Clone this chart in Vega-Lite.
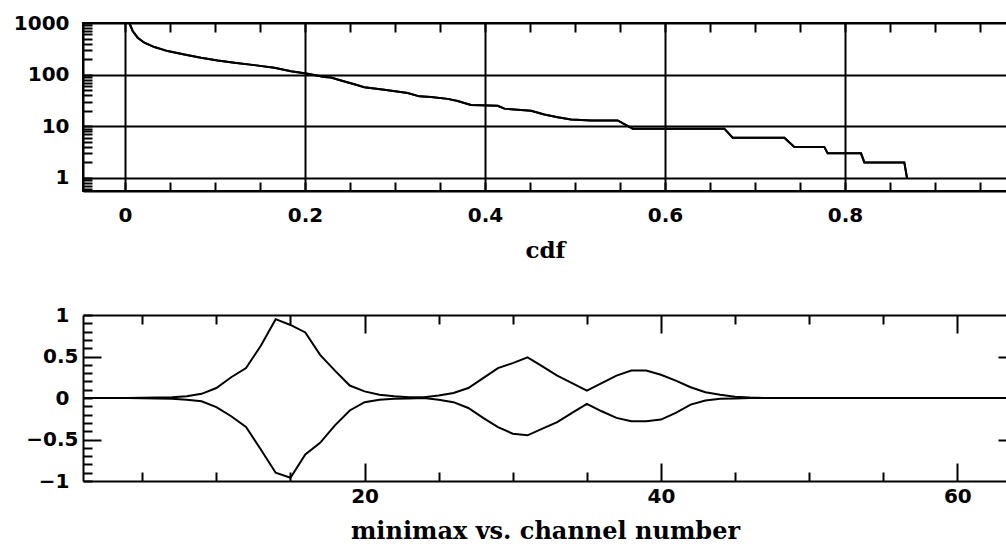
{
  "$schema": "https://vega.github.io/schema/vega-lite/v6.json",
  "background": "white",
  "padding": {"left": 12, "top": 12, "right": 0, "bottom": 0},
  "spacing": 42,
  "config": {
    "view": {"stroke": null},
    "axis": {
      "labelFont": "DejaVu Sans",
      "labelFontWeight": "bold",
      "labelFontSize": 20,
      "labelColor": "black",
      "labelOverlap": false,
      "labelFlush": false,
      "labelBound": false,
      "labelPadding": 23,
      "titleFont": "DejaVu Serif",
      "titleFontWeight": "bold",
      "titleFontSize": 23,
      "titleColor": "black",
      "tickColor": "black",
      "tickWidth": 2,
      "domainColor": "black",
      "domainWidth": 2,
      "gridColor": "black",
      "gridWidth": 2
    }
  },
  "vconcat": [
    {
      "width": 924,
      "height": 168,
      "view": {"stroke": "black", "strokeWidth": 2},
      "data": {
        "values": [
          {"cdf": 0.0048, "count": 1000},
          {"cdf": 0.0085, "count": 700},
          {"cdf": 0.0141, "count": 519},
          {"cdf": 0.0215, "count": 415},
          {"cdf": 0.0326, "count": 342},
          {"cdf": 0.0474, "count": 286},
          {"cdf": 0.0659, "count": 246},
          {"cdf": 0.0844, "count": 212},
          {"cdf": 0.103, "count": 188},
          {"cdf": 0.1215, "count": 170},
          {"cdf": 0.1437, "count": 153},
          {"cdf": 0.1659, "count": 136},
          {"cdf": 0.1844, "count": 117},
          {"cdf": 0.203, "count": 104},
          {"cdf": 0.2215, "count": 90},
          {"cdf": 0.2289, "count": 88},
          {"cdf": 0.24, "count": 77},
          {"cdf": 0.2548, "count": 65},
          {"cdf": 0.2659, "count": 57},
          {"cdf": 0.277, "count": 54},
          {"cdf": 0.2881, "count": 51},
          {"cdf": 0.3141, "count": 44},
          {"cdf": 0.327, "count": 38},
          {"cdf": 0.34, "count": 37},
          {"cdf": 0.3585, "count": 34},
          {"cdf": 0.3696, "count": 31},
          {"cdf": 0.3844, "count": 26},
          {"cdf": 0.4141, "count": 25},
          {"cdf": 0.4215, "count": 22},
          {"cdf": 0.4363, "count": 21},
          {"cdf": 0.4511, "count": 20},
          {"cdf": 0.4659, "count": 17},
          {"cdf": 0.4807, "count": 15},
          {"cdf": 0.4956, "count": 13.5},
          {"cdf": 0.5178, "count": 13},
          {"cdf": 0.5474, "count": 13},
          {"cdf": 0.5548, "count": 11},
          {"cdf": 0.5641, "count": 9},
          {"cdf": 0.6659, "count": 9},
          {"cdf": 0.6752, "count": 6},
          {"cdf": 0.7326, "count": 6},
          {"cdf": 0.7437, "count": 4},
          {"cdf": 0.777, "count": 4},
          {"cdf": 0.7807, "count": 3},
          {"cdf": 0.8178, "count": 3},
          {"cdf": 0.8215, "count": 2},
          {"cdf": 0.8659, "count": 2},
          {"cdf": 0.8689, "count": 1}
        ]
      },
      "layer": [
        {
          "mark": {"type": "line", "color": "black", "strokeWidth": 2, "clip": true},
          "encoding": {
            "x": {
              "field": "cdf", "type": "quantitative",
              "scale": {"domain": [-0.0467, 0.98], "nice": false, "zero": false},
              "axis": {
                "orient": "bottom", "grid": false,
                "values": [0, 0.05, 0.1, 0.15, 0.2, 0.25, 0.3, 0.35, 0.4, 0.45, 0.5, 0.55, 0.6, 0.65, 0.7, 0.75, 0.8, 0.85, 0.9, 0.95],
                "tickSize": -9,
                "labelExpr": "indexof([0, 0.2, 0.4, 0.6, 0.8], datum.value) >= 0 ? format(datum.value, '.1~f') : ''",
                "title": "cdf",
                "titlePadding": 14
              }
            },
            "y": {
              "field": "count", "type": "quantitative",
              "scale": {"type": "log", "domain": [0.56, 1000], "nice": false},
              "axis": {
                "orient": "left", "grid": false,
                "values": [0.6, 0.7, 0.8, 0.9, 1, 2, 3, 4, 5, 6, 7, 8, 9, 10, 20, 30, 40, 50, 60, 70, 80, 90, 100, 200, 300, 400, 500, 600, 700, 800, 900, 1000],
                "tickSize": -9,
                "labelExpr": "indexof([1, 10, 100, 1000], datum.value) >= 0 ? format(datum.value, 'd') : ''",
                "title": null
              }
            }
          }
        },
        {
          "mark": {"type": "line", "color": "black", "strokeWidth": 2, "clip": true},
          "encoding": {
            "x": {
              "field": "cdf", "type": "quantitative",
              "axis": {
                "orient": "top",
                "values": [0, 0.05, 0.1, 0.15, 0.2, 0.25, 0.3, 0.35, 0.4, 0.45, 0.5, 0.55, 0.6, 0.65, 0.7, 0.75, 0.8, 0.85, 0.9, 0.95],
                "tickSize": -9,
                "grid": true,
                "gridOpacity": {"condition": {"test": "indexof([0, 0.2, 0.4, 0.6, 0.8], datum.value) >= 0", "value": 1}, "value": 0},
                "labels": false,
                "title": null
              }
            },
            "y": {
              "field": "count", "type": "quantitative",
              "axis": {
                "orient": "right", "domain": false,
                "values": [1, 10, 100],
                "grid": true,
                "gridOpacity": 1,
                "ticks": false,
                "labels": false,
                "title": null
              }
            }
          }
        }
      ],
      "resolve": {"axis": {"x": "independent", "y": "independent"}}
    },
    {
      "width": 924,
      "height": 166,
      "data": {
        "values": [
          {"ch": 1, "max": 0, "min": 0},
          {"ch": 2, "max": 0, "min": 0},
          {"ch": 3, "max": 0, "min": 0},
          {"ch": 4, "max": 0, "min": 0},
          {"ch": 5, "max": 0.002, "min": -0.002},
          {"ch": 6, "max": 0.005, "min": -0.005},
          {"ch": 7, "max": 0.01, "min": -0.01},
          {"ch": 8, "max": 0.02, "min": -0.02},
          {"ch": 9, "max": 0.05, "min": -0.04},
          {"ch": 10, "max": 0.12, "min": -0.11},
          {"ch": 11, "max": 0.25, "min": -0.22},
          {"ch": 12, "max": 0.36, "min": -0.35},
          {"ch": 13, "max": 0.63, "min": -0.62},
          {"ch": 14, "max": 0.95, "min": -0.9},
          {"ch": 15, "max": 0.88, "min": -0.96},
          {"ch": 16, "max": 0.79, "min": -0.68},
          {"ch": 17, "max": 0.52, "min": -0.54},
          {"ch": 18, "max": 0.33, "min": -0.33},
          {"ch": 19, "max": 0.15, "min": -0.15},
          {"ch": 20, "max": 0.08, "min": -0.05},
          {"ch": 21, "max": 0.04, "min": -0.02},
          {"ch": 22, "max": 0.02, "min": -0.01},
          {"ch": 23, "max": 0.01, "min": -0.005},
          {"ch": 24, "max": 0.01, "min": 0},
          {"ch": 25, "max": 0.03, "min": -0.02},
          {"ch": 26, "max": 0.06, "min": -0.05},
          {"ch": 27, "max": 0.12, "min": -0.12},
          {"ch": 28, "max": 0.24, "min": -0.24},
          {"ch": 29, "max": 0.36, "min": -0.35},
          {"ch": 30, "max": 0.42, "min": -0.43},
          {"ch": 31, "max": 0.49, "min": -0.45},
          {"ch": 32, "max": 0.38, "min": -0.37},
          {"ch": 33, "max": 0.27, "min": -0.29},
          {"ch": 34, "max": 0.18, "min": -0.18},
          {"ch": 35, "max": 0.09, "min": -0.07},
          {"ch": 36, "max": 0.18, "min": -0.16},
          {"ch": 37, "max": 0.27, "min": -0.24},
          {"ch": 38, "max": 0.33, "min": -0.28},
          {"ch": 39, "max": 0.33, "min": -0.28},
          {"ch": 40, "max": 0.28, "min": -0.26},
          {"ch": 41, "max": 0.21, "min": -0.18},
          {"ch": 42, "max": 0.13, "min": -0.08},
          {"ch": 43, "max": 0.07, "min": -0.03},
          {"ch": 44, "max": 0.04, "min": -0.01},
          {"ch": 45, "max": 0.015, "min": -0.005},
          {"ch": 46, "max": 0.005, "min": 0},
          {"ch": 47, "max": 0, "min": 0},
          {"ch": 48, "max": 0, "min": 0},
          {"ch": 49, "max": 0, "min": 0},
          {"ch": 50, "max": 0, "min": 0},
          {"ch": 51, "max": 0, "min": 0},
          {"ch": 52, "max": 0, "min": 0},
          {"ch": 53, "max": 0, "min": 0},
          {"ch": 54, "max": 0, "min": 0},
          {"ch": 55, "max": 0, "min": 0},
          {"ch": 56, "max": 0, "min": 0},
          {"ch": 57, "max": 0, "min": 0},
          {"ch": 58, "max": 0, "min": 0},
          {"ch": 59, "max": 0, "min": 0},
          {"ch": 60, "max": 0, "min": 0},
          {"ch": 61, "max": 0, "min": 0},
          {"ch": 62, "max": 0, "min": 0},
          {"ch": 63, "max": 0, "min": 0},
          {"ch": 64, "max": 0, "min": 0}
        ]
      },
      "layer": [
        {
          "mark": {"type": "line", "color": "black", "strokeWidth": 2, "clip": true},
          "encoding": {
            "x": {
              "field": "ch", "type": "quantitative",
              "scale": {"domain": [1, 63.35], "nice": false, "zero": false},
              "axis": {
                "orient": "bottom", "grid": false,
                "values": [5, 10, 15, 20, 25, 30, 35, 40, 45, 50, 55, 60],
                "tickSize": {"condition": {"test": "datum.value % 20 === 0", "value": -18}, "value": -9},
                "labelExpr": "datum.value % 20 === 0 ? format(datum.value, 'd') : ''",
                "title": "minimax vs. channel number",
                "titleFontSize": 24,
                "titlePadding": 4
              }
            },
            "y": {
              "field": "max", "type": "quantitative",
              "scale": {"domain": [-1, 1], "nice": false},
              "axis": {
                "orient": "left", "grid": false,
                "values": [-1, -0.9, -0.8, -0.7, -0.6, -0.5, -0.4, -0.3, -0.2, -0.1, 0, 0.1, 0.2, 0.3, 0.4, 0.5, 0.6, 0.7, 0.8, 0.9, 1],
                "tickSize": {"condition": {"test": "datum.value === 0.5 || datum.value === -0.5", "value": -18}, "value": -9},
                "labelExpr": "indexof([-1, -0.5, 0, 0.5, 1], datum.value) >= 0 ? format(datum.value, '~g') : ''",
                "title": null
              }
            }
          }
        },
        {
          "mark": {"type": "line", "color": "black", "strokeWidth": 2, "clip": true},
          "encoding": {
            "x": {
              "field": "ch", "type": "quantitative",
              "axis": {
                "orient": "top", "grid": false,
                "values": [5, 10, 15, 20, 25, 30, 35, 40, 45, 50, 55, 60],
                "tickSize": {"condition": {"test": "datum.value % 20 === 0", "value": -18}, "value": -9},
                "labels": false,
                "title": null
              }
            },
            "y": {
              "field": "min", "type": "quantitative",
              "axis": {
                "orient": "right", "grid": false, "domain": false,
                "values": [-0.5, 0.5],
                "tickSize": -9,
                "labels": false,
                "title": null
              }
            }
          }
        }
      ],
      "resolve": {"axis": {"x": "independent", "y": "independent"}}
    }
  ]
}
